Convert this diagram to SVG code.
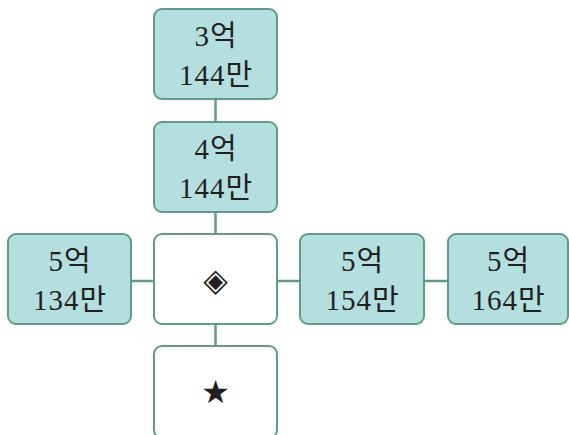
<svg xmlns="http://www.w3.org/2000/svg" width="569" height="435" viewBox="0 0 569 435">
<style>
.box{fill:#b4dfdf;stroke:#5f9b88;stroke-width:2}
.wbox{fill:#ffffff;stroke:#5f9b88;stroke-width:2}
.t{font-family:"Liberation Serif","Noto Sans CJK KR",serif;font-size:29px;letter-spacing:1px;fill:#231f20;text-anchor:middle}
.s{font-family:"DejaVu Sans",sans-serif;font-size:32px;fill:#231f20;text-anchor:middle}
.c{stroke:#5f9b88;stroke-width:2.5;fill:none}
</style>
<rect width="569" height="435" fill="#ffffff"/>
<g id="connectors">
<line class="c" x1="215.5" y1="99" x2="215.5" y2="122"/>
<line class="c" x1="215.5" y1="212" x2="215.5" y2="234"/>
<line class="c" x1="215.5" y1="324" x2="215.5" y2="346"/>
<line class="c" x1="131" y1="281" x2="154" y2="281"/>
<line class="c" x1="277" y1="281" x2="300" y2="281"/>
<line class="c" x1="424" y1="281" x2="448" y2="281"/>
</g>
<g id="n1"><rect class="box" x="154" y="9" width="123" height="90" rx="8"/>
<text class="t" x="216" y="46">3억</text><text class="t" x="216" y="85">144만</text></g>
<g id="n2"><rect class="box" x="154" y="122" width="123" height="90" rx="8"/>
<text class="t" x="216" y="159">4억</text><text class="t" x="216" y="198">144만</text></g>
<g id="n3"><rect class="box" x="8" y="234" width="123" height="90" rx="8"/>
<text class="t" x="70" y="271">5억</text><text class="t" x="70" y="310">134만</text></g>
<g id="n4"><rect class="wbox" x="154" y="234" width="123" height="90" rx="8"/>
<text class="s" x="215.5" y="291">◈</text></g>
<g id="n5"><rect class="box" x="300" y="234" width="124" height="90" rx="8"/>
<text class="t" x="362.5" y="271">5억</text><text class="t" x="362.5" y="310">154만</text></g>
<g id="n6"><rect class="box" x="448" y="234" width="120" height="90" rx="8"/>
<text class="t" x="508.5" y="271">5억</text><text class="t" x="508.5" y="310">164만</text></g>
<g id="n7"><rect class="wbox" x="154" y="346" width="123" height="92" rx="8"/>
<text class="s" x="215.5" y="403">★</text></g>
</svg>
